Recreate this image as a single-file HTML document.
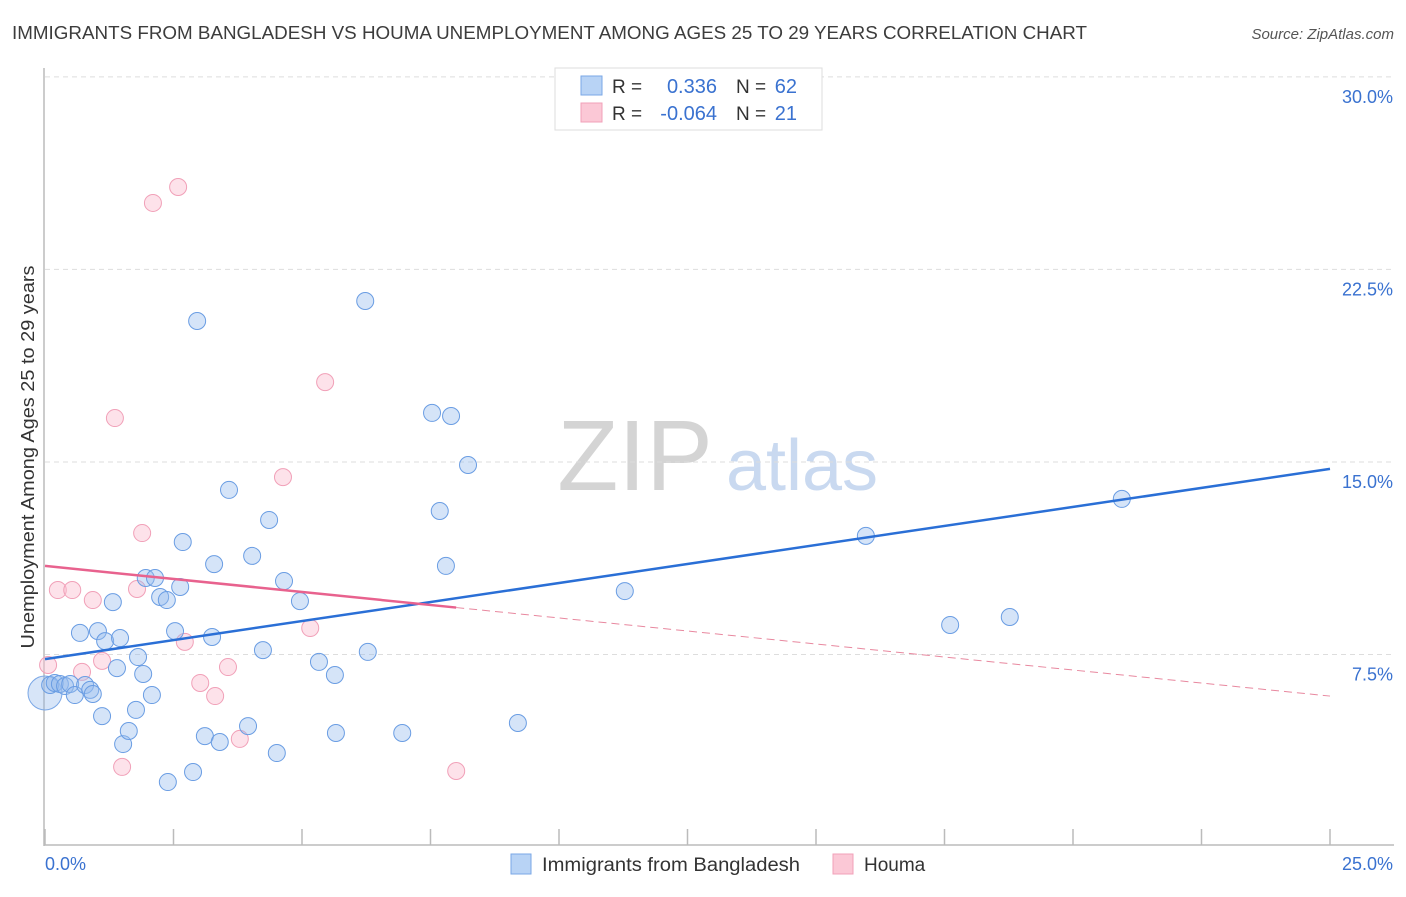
<!DOCTYPE html>
<html><head><meta charset="utf-8"><style>
body{margin:0;background:#fff;font-family:"Liberation Sans",sans-serif;}
svg text{font-family:"Liberation Sans",sans-serif;}
</style></head><body>
<svg id="chart" width="1406" height="892" xmlns="http://www.w3.org/2000/svg">
<text x="12" y="39" font-size="18" fill="#3c3c3c" textLength="1075" lengthAdjust="spacingAndGlyphs">IMMIGRANTS FROM BANGLADESH VS HOUMA UNEMPLOYMENT AMONG AGES 25 TO 29 YEARS CORRELATION CHART</text>
<text x="1394" y="39" font-size="15" fill="#555" text-anchor="end" font-style="italic">Source: ZipAtlas.com</text>
<text transform="translate(34,457) rotate(-90)" font-size="18" fill="#333" text-anchor="middle" textLength="383" lengthAdjust="spacingAndGlyphs">Unemployment Among Ages 25 to 29 years</text>
<g>
<text x="635" y="490" font-size="100" fill="#d4d4d4" text-anchor="middle" font-family="Liberation Serif, serif">ZIP</text>
<text x="802" y="490" font-size="72" fill="#c9d9f0" text-anchor="middle">atlas</text>
</g>
<g id="grid"></g><g id="axes"></g><g id="pts"></g><g id="lines"></g>
<g>
<rect x="555" y="68" width="267" height="62" fill="#fff" stroke="#ddd"/>
<rect x="581" y="76" width="21" height="19" fill="#b8d3f5" stroke="#7aa7e6"/>
<rect x="581" y="103" width="21" height="19" fill="#fbc8d6" stroke="#f1a0b8"/>
<text x="612" y="93" font-size="19" fill="#333">R =</text>
<text x="717" y="93" font-size="20" fill="#3a72d0" text-anchor="end">0.336</text>
<text x="736" y="93" font-size="19" fill="#333">N =</text>
<text x="797" y="93" font-size="20" fill="#3a72d0" text-anchor="end">62</text>
<text x="612" y="120" font-size="19" fill="#333">R =</text>
<text x="717" y="120" font-size="20" fill="#3a72d0" text-anchor="end">-0.064</text>
<text x="736" y="120" font-size="19" fill="#333">N =</text>
<text x="797" y="120" font-size="20" fill="#3a72d0" text-anchor="end">21</text>
</g>
<g>
<rect x="511" y="854" width="20" height="20" fill="#b8d3f5" stroke="#7aa7e6"/>
<text x="542" y="871" font-size="19" fill="#333" textLength="258" lengthAdjust="spacingAndGlyphs">Immigrants from Bangladesh</text>
<rect x="833" y="854" width="20" height="20" fill="#fbc8d6" stroke="#f1a0b8"/>
<text x="864" y="871" font-size="19" fill="#333">Houma</text>
</g>
</svg>
<script>
const blueX=[0.10,0.19,0.29,0.39,0.49,0.58,0.78,0.88,0.93,0.68,1.03,1.17,1.46,1.32,1.11,1.40,1.52,1.63,1.77,1.81,1.91,2.08,1.96,2.14,2.24,2.37,2.53,2.63,2.68,2.39,2.88,2.96,3.11,3.25,3.29,3.40,3.58,3.95,4.03,4.24,4.36,4.51,4.65,4.96,5.33,5.64,5.66,6.23,6.28,6.95,7.53,7.90,7.68,7.80,8.23,9.20,11.28,15.97,17.61,18.77,20.95];
const blueY=[6.31,6.39,6.35,6.27,6.35,5.92,6.31,6.12,5.96,8.34,8.41,8.02,8.14,9.54,5.10,6.97,4.01,4.52,5.34,7.40,6.74,5.92,10.48,10.48,9.74,9.62,8.41,10.13,11.88,2.53,2.92,20.49,4.32,8.18,11.02,4.09,13.91,4.71,11.34,7.67,12.74,3.66,10.36,9.58,7.21,6.70,4.44,21.27,7.60,4.44,16.91,16.79,13.09,10.95,14.88,4.83,9.97,12.12,8.65,8.96,13.56];
const pinkX=[0.06,0.25,0.53,0.72,0.93,1.11,1.36,1.50,1.79,1.89,2.10,2.59,2.72,3.02,3.31,3.56,3.79,4.63,5.16,5.45,8.00];
const pinkY=[7.09,10.01,10.01,6.82,9.62,7.25,16.71,3.12,10.05,12.23,25.09,25.71,7.99,6.39,5.88,7.01,4.21,14.41,8.53,18.11,2.96];
const yTicks=[7.5,15,22.5,30];
const yTickLabels=["7.5%","15.0%","22.5%","30.0%"];
const xTicks=[0,2.5,5,7.5,10,12.5,15,17.5,20,22.5,25];
const blueTrend=[7.32,0.2964];
const pinkTrend=[10.95,-0.2028];
const pinkSolidEnd=8.0;
const sx=v=>45+v*51.4, sy=v=>847-v*25.67;
const NS="http://www.w3.org/2000/svg";
function mk(p,t,a){const e=document.createElementNS(NS,t);for(const k in a)e.setAttribute(k,a[k]);p.appendChild(e);return e;}
const grid=document.getElementById('grid'),axes=document.getElementById('axes'),pts=document.getElementById('pts'),lines=document.getElementById('lines');
yTicks.forEach((v,i)=>{
 const l=mk(grid,'line',{x1:45,x2:1394,y1:sy(v),y2:sy(v),stroke:'#ddd','stroke-dasharray':'5,4'});
 
 
 const t=mk(axes,'text',{x:1393,y:sy(v)+26,'font-size':18,fill:'#3a72d0','text-anchor':'end'});
 t.textContent=yTickLabels[i];
 
 
});
const ya=mk(axes,'line',{x1:44,x2:44,y1:68,y2:846,stroke:'#bbb','stroke-width':1.5});


const xa=mk(axes,'line',{x1:44,x2:1394,y1:845,y2:845,stroke:'#bbb','stroke-width':1.5});


xTicks.forEach(v=>{
 const t=mk(axes,'line',{x1:sx(v),x2:sx(v),y1:829,y2:845,stroke:'#bbb','stroke-width':1.5});
 
 
});
const xl0=mk(axes,'text',{x:45,y:870,'font-size':18,fill:'#3a72d0'});xl0.textContent='0.0%';


const xl1=mk(axes,'text',{x:1393,y:870,'font-size':18,fill:'#3a72d0','text-anchor':'end'});xl1.textContent='25.0%';


const big=mk(pts,'circle',{cx:sx(0),cy:sy(6.0),r:17,fill:'rgba(140,180,235,0.35)',stroke:'#7aa7e6','stroke-width':1});


pinkX.forEach((x,i)=>{
 const c=mk(pts,'circle',{cx:sx(x),cy:sy(pinkY[i]),r:8.5,fill:'rgba(250,190,208,0.45)',stroke:'#f1a0b8','stroke-width':1});
 
 
});
blueX.forEach((x,i)=>{
 const c=mk(pts,'circle',{cx:sx(x),cy:sy(blueY[i]),r:8.5,fill:'rgba(150,188,238,0.4)',stroke:'#6a9de3','stroke-width':1});
 
 
});
const bl=mk(lines,'line',{x1:sx(0),y1:sy(blueTrend[0]),x2:sx(25),y2:sy(blueTrend[0]+25*blueTrend[1]),stroke:'#2a6fd6','stroke-width':2.5});


const pl=mk(lines,'line',{x1:sx(0),y1:sy(pinkTrend[0]),x2:sx(pinkSolidEnd),y2:sy(pinkTrend[0]+pinkSolidEnd*pinkTrend[1]),stroke:'#e8628e','stroke-width':2.5});


const pd=mk(lines,'line',{x1:sx(pinkSolidEnd),y1:sy(pinkTrend[0]+pinkSolidEnd*pinkTrend[1]),x2:sx(25),y2:sy(pinkTrend[0]+25*pinkTrend[1]),stroke:'#e8889f','stroke-width':1,'stroke-dasharray':'8,5'});


</script>
</body></html>
